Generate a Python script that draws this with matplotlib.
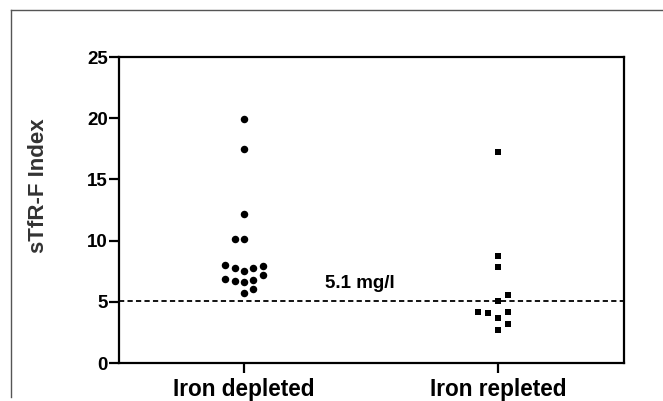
import numpy as np
import matplotlib
matplotlib.use('Agg')
import matplotlib.pyplot as plt
from matplotlib.lines import Line2D

# sTfR-F index per patient
groups = ['Iron depleted', 'Iron repleted']
depleted = [19.9, 17.45, 12.2, 10.15, 10.15,
            8.0, 7.8, 7.5, 7.75, 7.9,
            6.85, 6.7, 6.65, 6.8, 7.2,
            6.05, 5.7]
repleted = [17.2, 8.75, 7.85, 5.55, 5.05, 4.2, 4.05, 4.2, 3.65, 3.2, 2.7]
cutoff = 5.1
cutoff_label = '5.1 mg/l'
yticks = [0, 5, 10, 15, 20, 25]

plt.rcParams['font.family'] = ['Liberation Sans', 'DejaVu Sans']
plt.rcParams['font.weight'] = 'bold'


def column_offsets(vals, step, band=0.6):
    # prism-like column scatter: group close values into rows,
    # spread each row sideways 0, +-1, +-2 ... (alternating side per row)
    vals = np.asarray(vals, dtype=float)
    order = np.argsort(vals, kind='stable')
    rows = []
    row = []
    for i in order:
        if row and vals[i] - vals[row[0]] > band:
            rows.append(row)
            row = []
        row.append(i)
    rows.append(row)
    offs = np.zeros(len(vals))
    sign = 1
    for row in rows:
        slots = [0]
        k = 1
        while len(slots) < len(row):
            slots += [sign * k, -sign * k]
            k += 1
        for i, s in zip(row, slots):
            offs[i] = s * step
        sign = -sign
    return offs


fig = plt.figure(figsize=(6.63, 4.01), dpi=100)
ax = fig.add_axes([119/663., 1 - 363/401., (624 - 119)/663., (363 - 57)/401.])

x0 = np.zeros(len(depleted)) + column_offsets(depleted, 0.0366)
x1 = np.ones(len(repleted)) + column_offsets(repleted, 0.0394)
ax.plot(x0, depleted, 'o', color='black', markersize=5.4, markeredgewidth=0, zorder=3)
ax.plot(x1, repleted, 's', color='black', markersize=4.5, markeredgewidth=0, zorder=3)

ax.axhline(cutoff, color='black', lw=1.3, dashes=(2.9, 1.8), zorder=2)
ax.text(0.457, cutoff + 1.0, cutoff_label, ha='center', va='baseline',
        fontsize=13.5, fontweight='bold')

ax.set_xlim(-0.492, 1.496)
ax.set_ylim(0, 25)
ax.set_xticks([0, 1])
ax.set_xticklabels(groups, fontsize=16.3, fontweight='bold')
ax.set_yticks(yticks)
ax.set_yticklabels([str(t) for t in yticks], fontsize=13.5, fontweight='bold')
ax.set_ylabel('sTfR-F Index', fontsize=16, fontweight='bold', color='#333333')
ax.yaxis.set_label_coords(-0.138, 0.58)

for sp in ax.spines.values():
    sp.set_linewidth(1.6)
ax.tick_params(axis='both', direction='out', length=7, width=1.6, pad=1)
ax.tick_params(axis='x', pad=4)

# outer frame of the exported graph page
fig.add_artist(Line2D([11/663., 1.0], [1 - 10/401.] * 2, transform=fig.transFigure,
                      color='#555555', lw=1.0))
fig.add_artist(Line2D([11/663.] * 2, [1 - 10/401., 1 - 397/401.], transform=fig.transFigure,
                      color='#555555', lw=1.0))

fig.savefig('out.png', dpi=100)
